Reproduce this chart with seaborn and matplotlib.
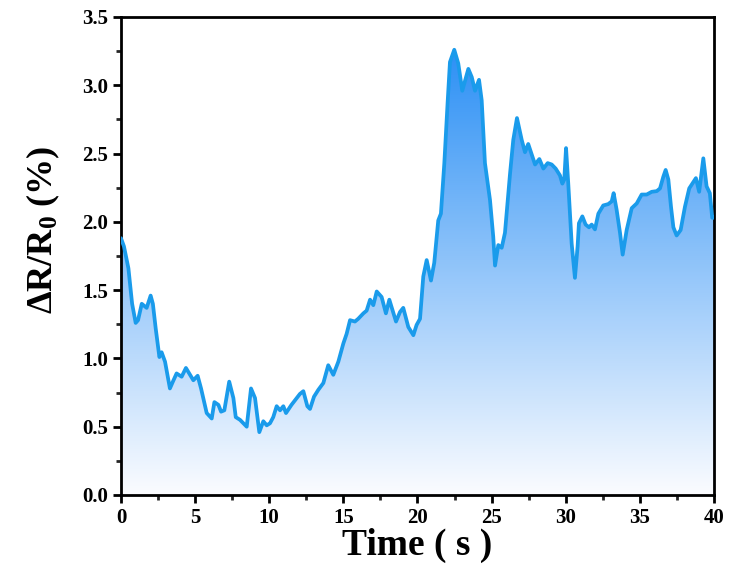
import numpy as np
import pandas as pd
import matplotlib
matplotlib.use("Agg")
import matplotlib.pyplot as plt
from matplotlib.colors import LinearSegmentedColormap
from matplotlib.ticker import MultipleLocator
import seaborn as sns

# Relative resistance change over time
time_s = [0.0, 0.2, 0.5, 0.75, 0.99, 1.15, 1.4, 1.73, 2.0, 2.15, 2.34, 2.59, 2.74, 2.97,
          3.3, 3.5, 3.75, 4.09, 4.38, 4.6, 4.88, 5.17, 5.4, 5.78, 6.12, 6.3, 6.57, 6.75,
          6.97, 7.3, 7.58, 7.74, 8.03, 8.25, 8.48, 8.77, 9.04, 9.33, 9.6, 9.83, 10.05,
          10.27, 10.5, 10.73, 10.95, 11.13, 11.5, 12.07, 12.3, 12.57, 12.75, 13.02, 13.31,
          13.65, 13.98, 14.32, 14.66, 15.0, 15.22, 15.45, 15.78, 16.0, 16.35, 16.57, 16.8,
          17.02, 17.25, 17.58, 17.87, 18.1, 18.55, 18.82, 19.04, 19.38, 19.72, 19.94,
          20.17, 20.39, 20.62, 20.91, 21.13, 21.4, 21.58, 21.81, 22.03, 22.19, 22.48,
          22.75, 23.02, 23.43, 23.66, 23.88, 24.15, 24.33, 24.55, 24.89, 25.11, 25.23,
          25.45, 25.68, 25.9, 26.24, 26.46, 26.71, 27.03, 27.25, 27.47, 27.93, 28.22,
          28.49, 28.78, 29.05, 29.32, 29.61, 29.77, 29.9, 30.02, 30.17, 30.4, 30.62,
          30.8, 30.89, 31.12, 31.34, 31.57, 31.75, 31.97, 32.2, 32.53, 32.87, 33.1,
          33.23, 33.43, 33.66, 33.84, 34.11, 34.45, 34.79, 35.12, 35.46, 35.8, 36.14,
          36.36, 36.58, 36.74, 36.92, 37.1, 37.26, 37.48, 37.75, 38.04, 38.33, 38.6,
          38.78, 39.0, 39.28, 39.5, 39.72, 39.88, 40.0]
delta_r = [1.88, 1.82, 1.66, 1.40, 1.26, 1.28, 1.40, 1.37, 1.46, 1.40, 1.22, 1.01, 1.045, 0.976,
           0.78, 0.83, 0.89, 0.866, 0.93, 0.89, 0.84, 0.873, 0.78, 0.60, 0.56, 0.68, 0.66, 0.61,
           0.62, 0.83, 0.71, 0.57, 0.55, 0.525, 0.50, 0.78, 0.71, 0.46, 0.54, 0.51, 0.525,
           0.57, 0.65, 0.62, 0.65, 0.60, 0.66, 0.74, 0.76, 0.65, 0.63, 0.72, 0.77,
           0.82, 0.95, 0.88, 0.976, 1.11, 1.18, 1.28, 1.27, 1.29, 1.33, 1.35, 1.43,
           1.39, 1.49, 1.45, 1.33, 1.43, 1.27, 1.34, 1.37, 1.23, 1.17, 1.245,
           1.29, 1.60, 1.72, 1.57, 1.70, 2.01, 2.06, 2.43, 2.87, 3.17, 3.26,
           3.16, 2.96, 3.12, 3.06, 2.96, 3.04, 2.89, 2.43, 2.16, 1.89, 1.68,
           1.83, 1.81, 1.92, 2.35, 2.60, 2.76, 2.60, 2.51, 2.57, 2.42, 2.46,
           2.39, 2.43, 2.42, 2.39, 2.34, 2.28, 2.31, 2.54, 2.28, 1.84, 1.59,
           1.82, 1.99, 2.04, 1.98, 1.96, 1.98, 1.945, 2.06, 2.12, 2.13, 2.15,
           2.21, 2.09, 1.92, 1.76, 1.94, 2.10, 2.135, 2.20, 2.20, 2.22, 2.225,
           2.245, 2.33, 2.38, 2.31, 2.11, 1.96, 1.90, 1.94, 2.11, 2.245, 2.29,
           2.32, 2.22, 2.465, 2.26, 2.21, 2.03, 2.03]

x_ticks = [0, 5, 10, 15, 20, 25, 30, 35, 40]
y_ticks = [0.0, 0.5, 1.0, 1.5, 2.0, 2.5, 3.0, 3.5]

df = pd.DataFrame({"Time": time_s, "dR": delta_r})

sns.set_style("ticks")
plt.rcParams["font.family"] = ["Liberation Serif", "DejaVu Serif"]
plt.rcParams["font.weight"] = "bold"
plt.rcParams["text.color"] = "black"
plt.rcParams["axes.labelcolor"] = "black"
plt.rcParams["mathtext.fontset"] = "custom"
plt.rcParams["mathtext.rm"] = "Liberation Serif:bold"
plt.rcParams["mathtext.bf"] = "Liberation Serif:bold"
plt.rcParams["mathtext.default"] = "rm"

fig = plt.figure(figsize=(7.32, 5.88), dpi=100)
ax = fig.add_axes([0.1653, 0.1582, 0.8101, 0.8129])

line_color = "#1a9beb"
sns.lineplot(data=df, x="Time", y="dR", ax=ax, color=line_color, lw=2.7,
             solid_joinstyle="round", zorder=3)

# Gradient fill under the curve
poly = ax.fill_between(df["Time"], df["dR"], 0, color="none", lw=0)
cmap = LinearSegmentedColormap.from_list("fade", ["#fbfcff", "#2c90f5"])
ymax = max(delta_r)
grad = np.linspace(0, 1, 256).reshape(-1, 1)
img = ax.imshow(grad, cmap=cmap, aspect="auto", origin="lower",
                extent=[0, 40, 0, ymax], zorder=2)
img.set_clip_path(poly.get_paths()[0], transform=ax.transData)

ax.set_xlim(0, 40)
ax.set_ylim(0, 3.5)
ax.set_xticks(x_ticks)
ax.set_yticks(y_ticks)
ax.set_xticklabels([str(t) for t in x_ticks])
ax.set_yticklabels([f"{t:.1f}" for t in y_ticks])
ax.xaxis.set_minor_locator(MultipleLocator(2.5))
ax.yaxis.set_minor_locator(MultipleLocator(0.25))

for s in ax.spines.values():
    s.set_visible(True)
    s.set_linewidth(2.0)
    s.set_color("black")

ax.tick_params(axis="both", which="major", direction="out", length=6, width=2.0,
               labelsize=15, colors="black", top=False, right=False)
ax.tick_params(axis="both", which="minor", direction="out", length=3.5, width=2.0,
               top=False, right=False)
for lab in ax.get_xticklabels() + ax.get_yticklabels():
    lab.set_fontweight("bold")

ax.set_xlabel("Time ( s )", fontsize=27, fontweight="bold", color="black")
ax.set_ylabel(r"$\Delta$R/R$_0$ (%)", fontsize=26, fontweight="bold", color="black")
ax.xaxis.set_label_coords(0.5, -0.069)
ax.yaxis.set_label_coords(-0.1, 0.555)

fig.savefig("out.png", dpi=100)
